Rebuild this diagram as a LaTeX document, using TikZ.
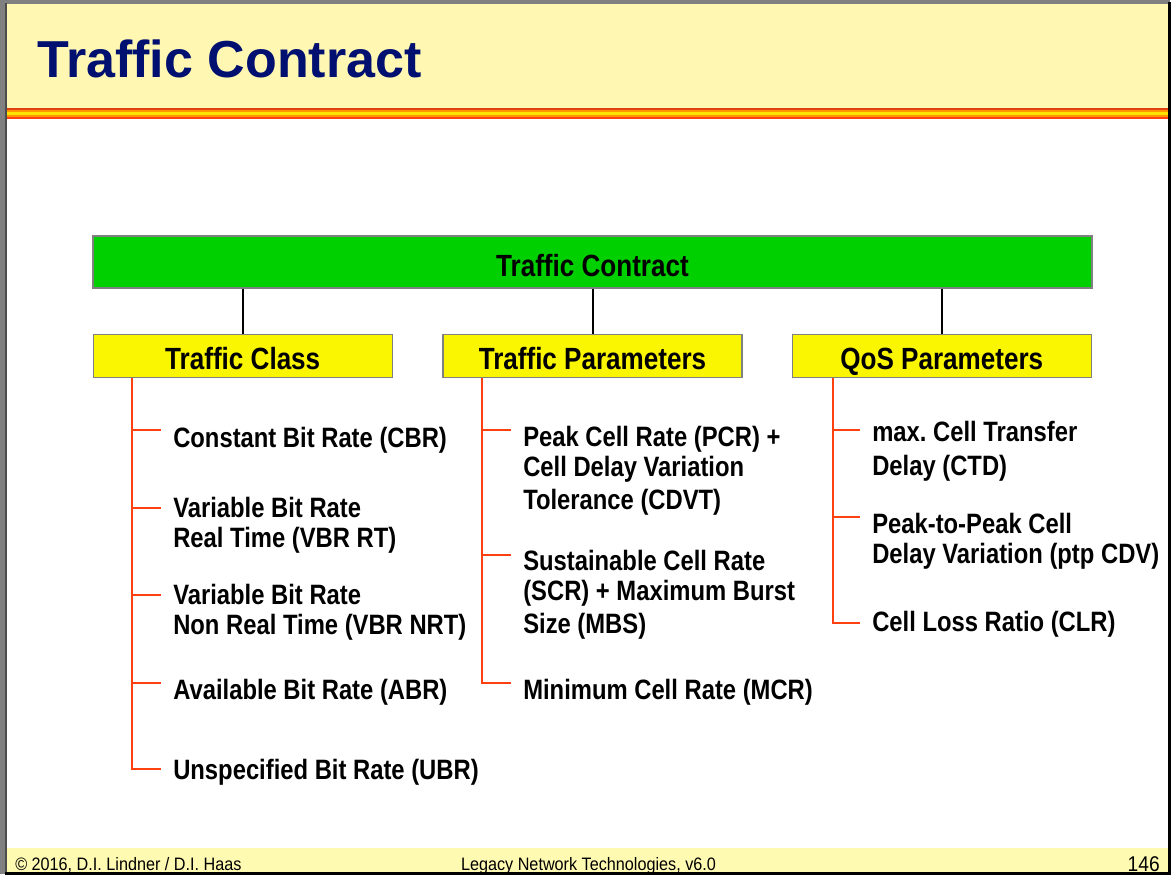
\documentclass[tikz,border=0pt]{standalone}
\usepackage{fontspec}
\setmainfont{Liberation Sans}
\newfontfamily\condfont[FakeStretch=0.85]{Liberation Sans}
\newfontfamily\footfont[FakeStretch=0.9]{Liberation Sans}
\definecolor{hdryellow}{RGB}{255,247,178}
\definecolor{footyellow}{RGB}{255,250,178}
\definecolor{boxgreen}{RGB}{0,208,0}
\definecolor{boxyellow}{RGB}{250,245,0}
\definecolor{titlenavy}{RGB}{0,16,112}
\definecolor{treeorange}{RGB}{255,64,16}
\definecolor{stripered}{RGB}{224,64,16}
\definecolor{stripeorange}{RGB}{255,150,0}
\definecolor{stripeyellow}{RGB}{255,226,0}
\definecolor{framegray}{RGB}{128,128,128}
\tikzset{
  topbox/.style={draw=framegray, line width=0.8pt, fill=boxgreen, minimum width=749.25pt, minimum height=39pt, inner sep=0pt,
    text height=21pt, text depth=0pt,
    font=\condfont\bfseries\fontsize{23pt}{27pt}\selectfont},
  headbox/.style={draw=framegray, line width=0.8pt, fill=boxyellow, minimum width=224.25pt, minimum height=32.25pt, inner sep=0pt,
    text height=19.5pt, text depth=0pt,
    font=\condfont\bfseries\fontsize{23pt}{27pt}\selectfont},
  item/.style={anchor=base west, inner sep=0pt, font=\condfont\bfseries\fontsize{21pt}{22.5pt}\selectfont\frenchspacing},
  blackline/.style={draw=black, line width=1.5pt},
  treeline/.style={draw=treeorange, line width=1.5pt},
  foottext/.style={inner sep=0pt, font=\footfont\fontsize{13.5pt}{16pt}\selectfont\frenchspacing},
}
\begin{document}
\frenchspacing
\begin{tikzpicture}[x=0.75pt,y=-0.75pt]
\useasboundingbox (0,0) rectangle (1173,877);
\fill[white] (0,0) rectangle (1173,877);
% slide frame
\fill[framegray] (0,0) rectangle (1170,4);
\fill[framegray] (0,0) rectangle (7,874);
\fill[black!70] (5,3) rectangle (7,874);
\fill[black] (1168,2) rectangle (1171,875);
\fill[black] (5,872) rectangle (1171,875);
% header band
\fill[hdryellow] (7,4) rectangle (1168,109);
\fill[stripered] (7,108) rectangle (1168,110);
\fill[stripeorange] (7,110) rectangle (1168,112);
\fill[stripeyellow] (7,112) rectangle (1168,115);
\fill[stripeorange] (7,115) rectangle (1168,117);
\fill[treeorange] (7,117) rectangle (1168,119.5);
\node[anchor=base west, inner sep=0pt, text=titlenavy, font=\bfseries\fontsize{39pt}{44pt}\selectfont] (title) at (37,78) {Traffic Contract};
% footer band
\fill[footyellow] (7,848) rectangle (1168,872);
\node[foottext, anchor=base west] (copy) at (15,870) {\textcopyright{} 2016, D.I. Lindner / D.I. Haas};
\node[foottext, anchor=base] (course) at (588.5,870) {Legacy Network Technologies, v6.0};
\node[foottext, anchor=base east, font=\footfont\fontsize{16pt}{18pt}\selectfont] (page) at (1160,871) {146};

% boxes
\node[topbox] (tc) at (592.5,262) {Traffic Contract};
\node[headbox] (h1) at (242.75,356) {Traffic Class};
\node[headbox] (h2) at (592.5,356) {Traffic Parameters};
\node[headbox] (h3) at (941.75,356) {QoS Parameters};
\draw[blackline] (h1.north |- tc.south) -- (h1.north);
\draw[blackline] (h2.north |- tc.south) -- (h2.north);
\draw[blackline] (h3.north |- tc.south) -- (h3.north);

% column 1
\coordinate (x1) at (132,0);
\node[item] (cbr) at (173,447) {Constant Bit Rate (CBR)};
\node[item] (vbrrt) at (173,517) {\begin{tabular}[t]{@{}l@{}}Variable Bit Rate\\Real Time (VBR RT)\end{tabular}};
\node[item] (vbrnrt) at (173,604) {\begin{tabular}[t]{@{}l@{}}Variable Bit Rate\\Non Real Time (VBR NRT)\end{tabular}};
\node[item] (abr) at (173,699) {Available Bit Rate (ABR)};
\node[item] (ubr) at (173,779) {Unspecified Bit Rate (UBR)};
\coordinate (t11) at (160.5,430);
\coordinate (t12) at (160.5,508);
\coordinate (t13) at (160.5,595);
\coordinate (t14) at (160.5,683);
\coordinate (t15) at (160.5,769);
\draw[treeline] (x1 |- h1.south) |- (t15);
\draw[treeline] (x1 |- t11) -- (t11);
\draw[treeline] (x1 |- t12) -- (t12);
\draw[treeline] (x1 |- t13) -- (t13);
\draw[treeline] (x1 |- t14) -- (t14);

% column 2
\coordinate (x2) at (482,0);
\node[item] (pcr) at (523,446) {\begin{tabular}[t]{@{}l@{}}Peak Cell Rate (PCR) +\\Cell Delay Variation\\[2.25pt]Tolerance (CDVT)\end{tabular}};
\node[item] (scr) at (523,570) {\begin{tabular}[t]{@{}l@{}}Sustainable Cell Rate\\(SCR) + Maximum Burst\\[2.25pt]Size (MBS)\end{tabular}};
\node[item] (mcr) at (523,699) {Minimum Cell Rate (MCR)};
\coordinate (t21) at (511,430);
\coordinate (t22) at (511,555);
\coordinate (t23) at (511,683);
\draw[treeline] (x2 |- h2.south) |- (t23);
\draw[treeline] (x2 |- t21) -- (t21);
\draw[treeline] (x2 |- t22) -- (t22);

% column 3
\coordinate (x3) at (832.5,0);
\node[item] (ctd) at (872,441) {\begin{tabular}[t]{@{}l@{}}max. Cell Transfer\\[3pt]Delay (CTD)\end{tabular}};
\node[item] (cdv) at (872,533) {\begin{tabular}[t]{@{}l@{}}Peak-to-Peak Cell\\Delay Variation (ptp CDV)\end{tabular}};
\node[item] (clr) at (872,631) {Cell Loss Ratio (CLR)};
\coordinate (t31) at (860,430);
\coordinate (t32) at (860,517);
\coordinate (t33) at (860,623);
\draw[treeline] (x3 |- h3.south) |- (t33);
\draw[treeline] (x3 |- t31) -- (t31);
\draw[treeline] (x3 |- t32) -- (t32);
\end{tikzpicture}
\end{document}
